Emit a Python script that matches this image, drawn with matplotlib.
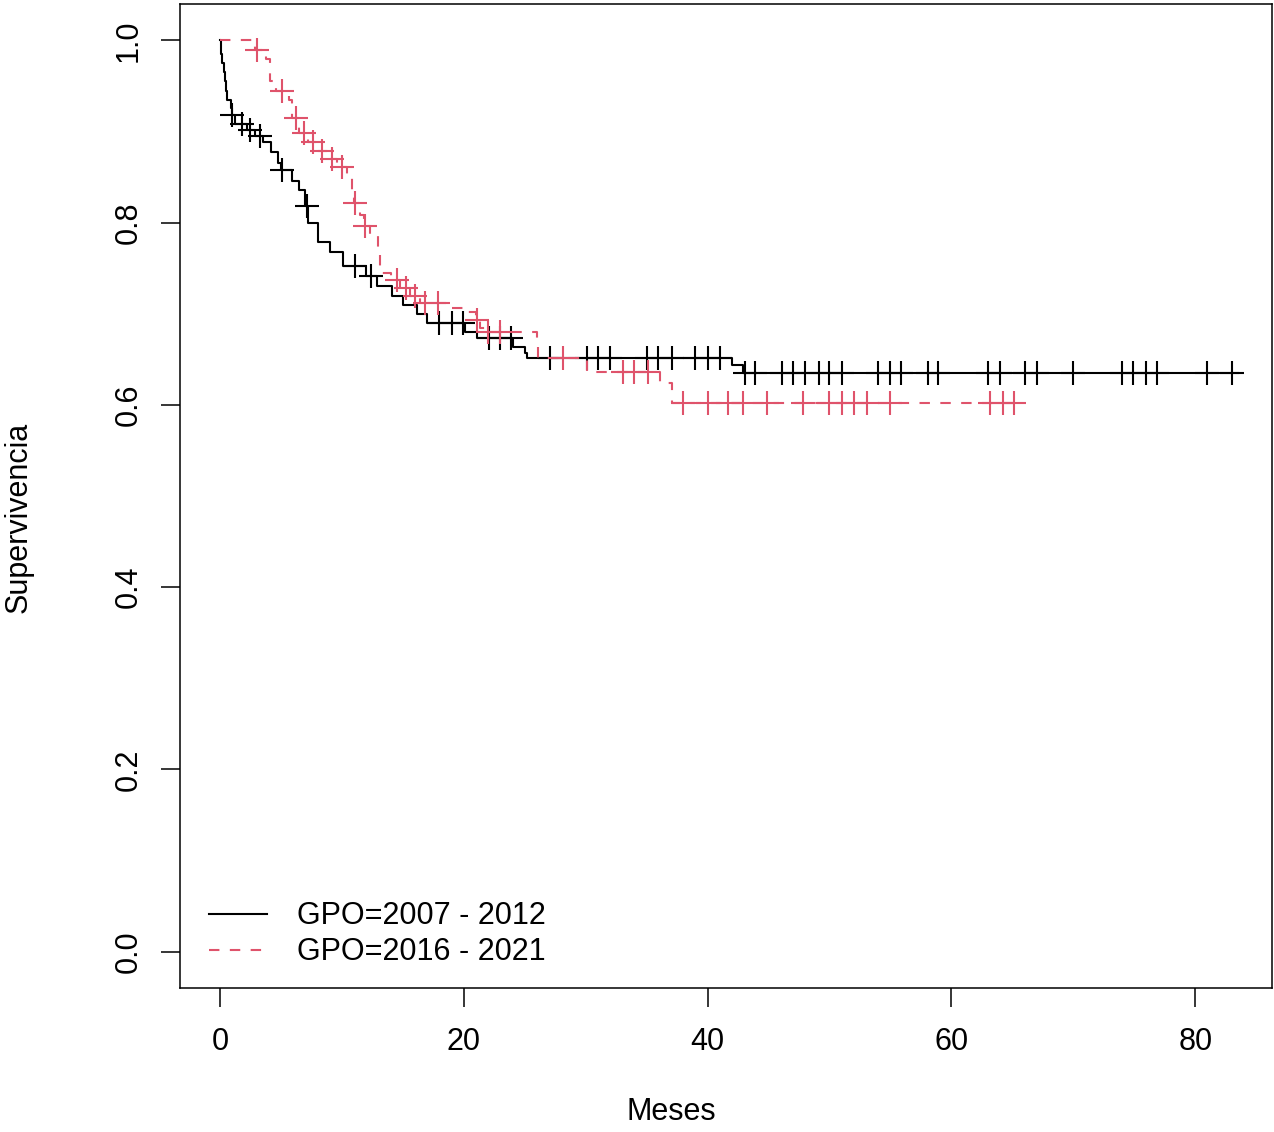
import numpy as np
import matplotlib
matplotlib.use("Agg")
import matplotlib.pyplot as plt

# --- Kaplan-Meier steps ---
# GPO=2007 - 2012 (black): event time -> survival after the drop
black_times = [0.0, 0.1, 0.2, 0.3, 0.4, 0.5, 0.6, 0.9, 1.0, 1.2, 2.2, 2.9, 3.5,
               4.2, 4.8, 5.0, 5.9, 6.5, 7.0, 7.2, 8.0, 9.0, 10.1, 12.0, 12.9,
               14.1, 15.0, 16.2, 17.0, 20.1, 21.1, 24.0, 25.0, 25.2, 42.0, 42.9]
black_surv = [1.0, 0.985, 0.975, 0.965, 0.955, 0.945, 0.935, 0.926, 0.918, 0.908,
              0.902, 0.895, 0.888, 0.878, 0.866, 0.858, 0.846, 0.836, 0.818, 0.800,
              0.779, 0.768, 0.752, 0.741, 0.730, 0.719, 0.710, 0.700, 0.690,
              0.680, 0.673, 0.663, 0.657, 0.652, 0.644, 0.635]
black_end = 83.5
black_cens = [1.0, 1.8, 2.5, 3.3, 5.1, 7.1, 11.1, 12.4, 18.0, 19.0, 19.9, 22.1,
              23.0, 23.9, 27.1, 30.1, 31.0, 32.0, 35.0, 35.9, 37.1, 39.0, 40.0,
              41.0, 43.1, 43.9, 46.1, 47.0, 48.0, 49.1, 50.0, 51.0, 54.0, 55.0,
              55.9, 58.1, 58.9, 63.0, 64.0, 66.0, 67.0, 70.0, 74.0, 74.9, 76.0,
              76.9, 81.0, 83.0]

# GPO=2016 - 2021 (red, dashed)
red_times = [0.0, 2.9, 3.8, 4.1, 4.6, 5.7, 5.9, 6.5, 7.2, 8.0, 8.8, 9.6, 10.4,
             10.8, 11.0, 11.5, 11.8, 12.3, 13.0, 13.1, 14.0, 14.8, 15.6, 16.4,
             18.5, 20.0, 21.0, 21.3, 22.0, 26.0, 26.1, 30.1, 36.1, 37.1]
red_surv = [1.0, 0.990, 0.980, 0.955, 0.944, 0.935, 0.915, 0.898, 0.888, 0.879,
            0.870, 0.861, 0.852, 0.834, 0.822, 0.808, 0.796, 0.787, 0.765, 0.745,
            0.737, 0.728, 0.719, 0.712, 0.706, 0.702, 0.693, 0.684, 0.680,
            0.664, 0.652, 0.636, 0.624, 0.602]
red_end = 65.8
red_cens = [3.0, 5.1, 6.2, 6.9, 7.6, 8.4, 9.2, 10.0, 11.1, 11.9, 14.5, 15.3, 16.0,
            16.8, 17.9, 21.1, 22.0, 23.0, 28.1, 33.1, 34.0, 35.1, 38.0, 40.0,
            41.7, 42.9, 44.9, 47.8, 50.0, 51.0, 52.0, 53.1, 55.0, 63.2, 64.2, 65.1]

labels = ["GPO=2007 - 2012", "GPO=2016 - 2021"]
RED = "#DF536B"

plt.rcParams["font.family"] = ["Liberation Sans", "DejaVu Sans"]

fig = plt.figure(figsize=(12.74, 11.32), dpi=100)
ax = fig.add_axes([180 / 1274, 144 / 1132, 1092 / 1274, 984 / 1132])


def surv_at(times, surv, t):
    idx = np.searchsorted(times, t, side="right") - 1
    return np.asarray(surv)[idx]


curves = [
    (black_times, black_surv, black_end, black_cens, "black", "-"),
    (red_times, red_surv, red_end, red_cens, RED, (0, (5, 5))),
]
handles = []
for (tt, ss, end, cens, color, ls), lab in zip(curves, labels):
    x = list(tt) + [end]
    y = list(ss) + [ss[-1]]
    h, = ax.step(x, y, where="post", color=color, linestyle=ls, linewidth=1.5,
                 label=lab)
    handles.append(h)
    ax.plot(cens, surv_at(tt, ss, cens), linestyle="none", marker="+",
            markersize=17, markeredgewidth=1.5, color=color)

ax.set_xlim(-3.28, 86.3)
ax.set_ylim(-0.04, 1.04)
ax.set_xticks([0, 20, 40, 60, 80])
ax.set_yticks([0.0, 0.2, 0.4, 0.6, 0.8, 1.0])
ax.set_yticklabels(["0.0", "0.2", "0.4", "0.6", "0.8", "1.0"], rotation=90,
                   va="center")
ax.tick_params(axis="both", length=14, width=1.1, labelsize=22)
ax.tick_params(axis="x", pad=14)
ax.tick_params(axis="y", pad=12)
for sp in ax.spines.values():
    sp.set_linewidth(1.1)

ax.set_xlabel("Meses", fontsize=22, va="center")
ax.xaxis.set_label_coords(0.45, -0.126)
ax.set_ylabel("Supervivencia", fontsize=22, va="center")
ax.yaxis.set_label_coords(-0.148, 0.478)

ax.legend(handles=handles, loc="lower left", bbox_to_anchor=(0.001, -0.007),
          frameon=False, fontsize=22, handlelength=1.9, handletextpad=1.0,
          labelspacing=0.2)

fig.savefig("out.png", dpi=100)
